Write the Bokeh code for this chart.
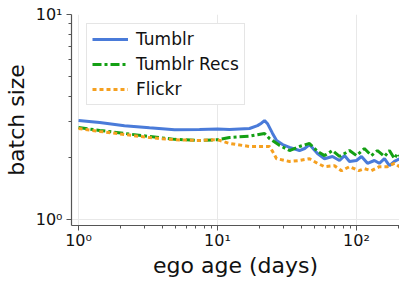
from bokeh.plotting import figure
from bokeh.models import Range1d, FixedTicker, CustomJSTickFormatter, Legend, LegendItem
from bokeh.embed import file_html
from bokeh.resources import INLINE

# ---- data ----
tumblr_x = [1.0, 1.42, 2.14, 3.24, 4.91, 7.42, 10.0, 12.2, 17.0, 19.4, 20.7, 21.8, 23.0, 24.9,
            26.6, 29.4, 33.0, 38.9, 42.4, 45.9, 52.4, 58.9, 67.2, 75.5, 82.0, 89.1, 100.0,
            108.7, 120.0, 134.6, 146.0, 159.0, 172.7, 187.6, 204.0]
tumblr_y = [3.04, 2.97, 2.87, 2.80, 2.74, 2.75, 2.76, 2.75, 2.78, 2.87, 2.95, 3.04, 2.92, 2.63,
            2.43, 2.32, 2.25, 2.17, 2.22, 2.32, 2.10, 1.98, 2.03, 1.94, 2.05, 1.92, 1.94,
            2.03, 1.88, 1.94, 1.88, 1.98, 1.83, 1.92, 1.98]

recs_x = [1.0, 1.42, 2.14, 3.24, 4.91, 7.42, 10.0, 12.2, 17.0, 21.8, 23.7, 27.9, 33.0, 38.9,
          45.9, 52.4, 58.9, 67.2, 75.5, 89.1, 100.0, 114.0, 128.0, 141.6, 159.0, 172.7,
          187.6, 197.0, 204.0]
recs_y = [2.81, 2.72, 2.63, 2.54, 2.46, 2.43, 2.45, 2.51, 2.55, 2.63, 2.48, 2.30, 2.17, 2.27,
          2.35, 2.15, 2.05, 2.17, 2.03, 2.17, 2.05, 2.22, 2.05, 2.17, 2.03, 2.17,
          1.98, 2.10, 2.05]

flickr_x = [1.0, 1.42, 2.14, 3.24, 4.91, 7.42, 10.0, 12.2, 17.0, 23.7, 24.9, 26.6, 33.0, 38.9,
            45.9, 52.4, 58.9, 69.5, 78.0, 89.1, 104.0, 114.0, 128.0, 146.0, 167.0, 187.6, 204.0]
flickr_y = [2.78, 2.69, 2.60, 2.51, 2.45, 2.43, 2.45, 2.35, 2.27, 2.27, 2.15, 1.98, 1.92, 1.94,
            1.98, 1.88, 1.81, 1.83, 1.73, 1.81, 1.73, 1.77, 1.73, 1.81, 1.81, 1.88, 1.81]

x_major = [1, 10, 100]
x_minor = [2, 3, 4, 5, 6, 7, 8, 9, 20, 30, 40, 50, 60, 70, 80, 90, 200]
y_major = [1, 10]
y_minor = [2, 3, 4, 5, 6, 7, 8, 9]

FONT = "DejaVu Sans"

p = figure(frame_width=328, frame_height=211, x_axis_type="log", y_axis_type="log",
           x_range=Range1d(0.89, 204), y_range=Range1d(0.935, 10),
           output_backend="svg", toolbar_location=None,
           min_border_left=64, min_border_top=14, min_border_right=0, min_border_bottom=10)
p.outline_line_color = None
p.background_fill_color = "white"

sup_code = """
const e = Math.round(Math.log10(tick));
const sup = {"0":"\u2070","1":"\u00b9","2":"\u00b2","3":"\u00b3","-":"\u207b"};
return "10" + String(e).split("").map(c => sup[c]).join("");
"""

for ax, maj, mnr in ((p.xaxis[0], x_major, x_minor), (p.yaxis[0], y_major, y_minor)):
    ax.ticker = FixedTicker(ticks=maj, minor_ticks=mnr)
    ax.formatter = CustomJSTickFormatter(code=sup_code)
    ax.axis_line_color = "#555555"
    ax.axis_line_width = 1.2
    ax.major_tick_line_color = "#555555"
    ax.minor_tick_line_color = "#555555"
    ax.major_tick_in = 0
    ax.major_tick_out = 5
    ax.minor_tick_in = 0
    ax.minor_tick_out = 3
    ax.major_label_text_font = FONT
    ax.major_label_text_font_size = "16px"
    ax.major_label_text_color = "#111111"
    ax.axis_label_text_font = FONT
    ax.axis_label_text_font_size = "22px"
    ax.axis_label_text_font_style = "normal"
    ax.axis_label_text_color = "#111111"

p.xaxis.axis_label = "ego age (days)"
p.yaxis.axis_label = "batch size"
p.xaxis.major_label_standoff = 0
p.xaxis.axis_label_standoff = 0
p.yaxis.major_label_standoff = 4
p.yaxis.axis_label_standoff = 4

p.xgrid.ticker = FixedTicker(ticks=x_major)
p.ygrid.ticker = FixedTicker(ticks=y_major)
p.xgrid.grid_line_color = "#e8e8e8"
p.ygrid.grid_line_color = "#e8e8e8"

r1 = p.line(tumblr_x, tumblr_y, line_color="#4a7bd9", line_width=3)
r2 = p.line(recs_x, recs_y, line_color="#14a014", line_width=3, line_dash="9 3 3 3")
r3 = p.line(flickr_x, flickr_y, line_color="#f5a020", line_width=3, line_dash="4 3")

legend = Legend(items=[LegendItem(label="Tumblr", renderers=[r1]),
                       LegendItem(label="Tumblr Recs", renderers=[r2]),
                       LegendItem(label="Flickr", renderers=[r3])],
                location=(15, 120))
legend.label_text_font = FONT
legend.label_text_font_size = "17px"
legend.label_text_color = "#111111"
legend.border_line_color = "#cccccc"
legend.border_line_width = 1
legend.background_fill_alpha = 1.0
legend.padding = 5
legend.spacing = 5
legend.label_height = 20
legend.glyph_height = 20
legend.glyph_width = 36
legend.label_standoff = 8
legend.margin = 0
p.add_layout(legend, "center")

open("out.html", "w").write(file_html(p, INLINE))
